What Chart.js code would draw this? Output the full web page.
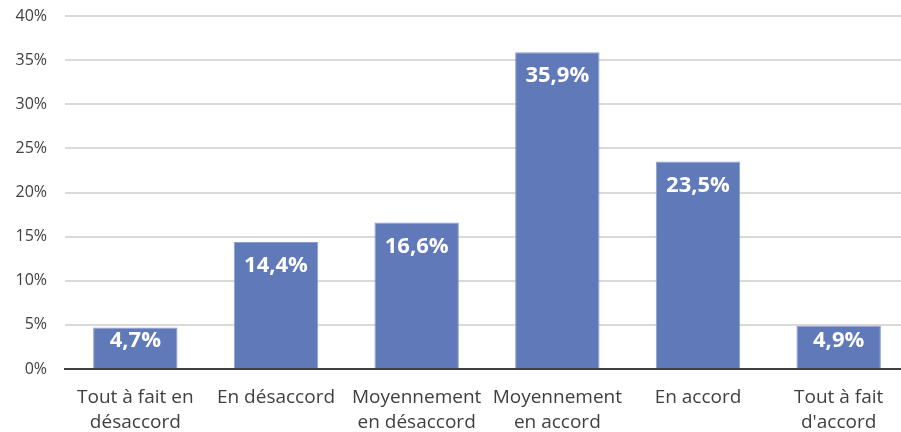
<!DOCTYPE html>
<html>
<head>
<meta charset="utf-8">
<script src="https://cdn.jsdelivr.net/npm/chart.js@4"></script>
<style>
  html, body { margin: 0; padding: 0; background: #fff; overflow: hidden; }
  #wrap { width: 909px; height: 432px; }
</style>
</head>
<body>
<div id="wrap"><canvas id="accordChart" width="909" height="432"></canvas></div>
<script>
const categories = [
  ["Tout à fait en", "désaccord"],
  ["En désaccord"],
  ["Moyennement", "en désaccord"],
  ["Moyennement", "en accord"],
  ["En accord"],
  ["Tout à fait", "d'accord"]
];
const shares = [4.7, 14.4, 16.6, 35.9, 23.5, 4.9];
const yTicks = [0, 5, 10, 15, 20, 25, 30, 35, 40];

const FONT = "'Open Sans', sans-serif";

function pct(value) {
  return value.toFixed(1).replace(".", ",") + "%";
}

// white value labels near the top of each bar
const barLabels = {
  id: "barLabels",
  afterDatasetsDraw(chart) {
    const ctx = chart.ctx;
    const meta = chart.getDatasetMeta(0);
    ctx.save();
    ctx.fillStyle = "#ffffff";
    ctx.font = "bold 22px " + FONT;
    ctx.textAlign = "center";
    ctx.textBaseline = "middle";
    meta.data.forEach((bar, i) => {
      const y = Math.min(bar.y + 24, bar.base - 27);
      ctx.fillText(pct(shares[i]), bar.x, y);
    });
    ctx.restore();
  }
};

new Chart(document.getElementById("accordChart"), {
  type: "bar",
  data: {
    labels: categories,
    datasets: [{
      data: shares,
      backgroundColor: "#6079b8",
      borderColor: "#8aa0cf",
      borderWidth: 1,
      barPercentage: 0.6,
      categoryPercentage: 1
    }]
  },
  options: {
    responsive: false,
    animation: false,
    layout: { padding: { top: 16, right: 0, bottom: 0, left: 0 } },
    plugins: {
      legend: { display: false },
      tooltip: { enabled: false }
    },
    scales: {
      x: {
        grid: { display: false },
        border: { color: "#404040", width: 2 },
        ticks: {
          color: "#404040",
          font: { family: FONT, size: 19, lineHeight: 1.32 },
          maxRotation: 0,
          autoSkip: false,
          padding: 8
        },
        afterFit(scale) { scale.height = 63; }
      },
      y: {
        min: 0,
        max: 40,
        afterBuildTicks(scale) {
          scale.ticks = yTicks.map(v => ({ value: v }));
        },
        grid: { color: "#d9d9d9", lineWidth: 2, drawTicks: false },
        border: { display: false },
        ticks: {
          color: "#404040",
          font: { family: FONT, size: 16 },
          padding: 18,
          callback: v => v + "%"
        },
        afterFit(scale) {
          scale.width = 65;
          scale.paddingTop = 0;
          scale.paddingBottom = 0;
        }
      }
    }
  },
  plugins: [barLabels]
});
</script>
</body>
</html>
